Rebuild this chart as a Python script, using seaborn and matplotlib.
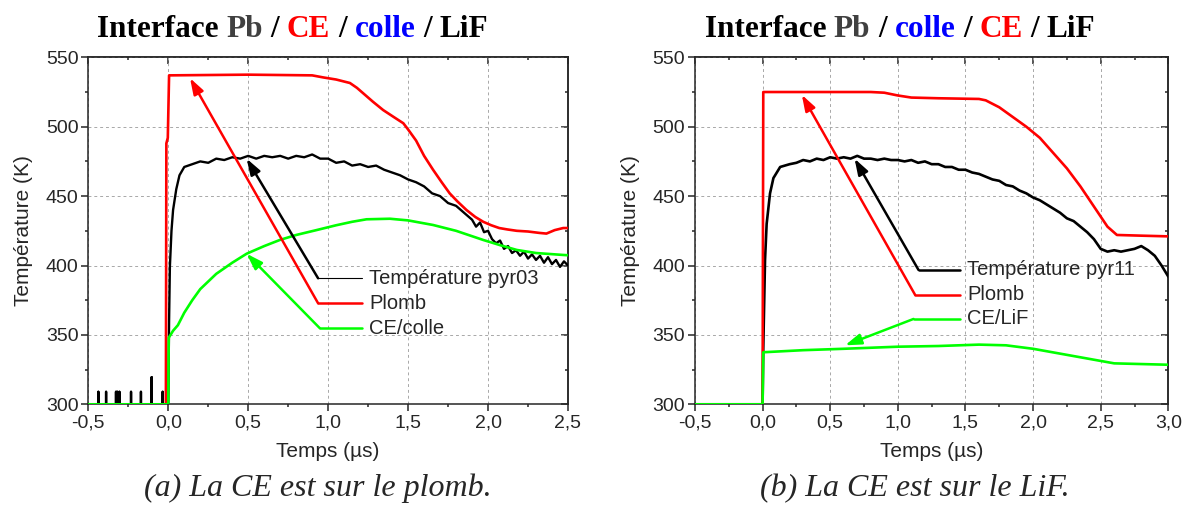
import pandas as pd
import matplotlib
matplotlib.use("Agg")
import matplotlib.pyplot as plt
import seaborn as sns
from matplotlib.ticker import MultipleLocator, FuncFormatter
from matplotlib.offsetbox import TextArea, HPacker, AnchoredOffsetbox

# --- DATA (a) : la CE est sur le plomb ---
a_spike_x = [-0.4375, -0.389, -0.327, -0.319, -0.306, -0.233, -0.171, -0.104, -0.035]
a_spike_top = [309, 309, 309, 309, 309, 309, 309, 319.5, 309]

a_pyr_x = [0.0, 0.005, 0.01, 0.02, 0.03, 0.05, 0.07, 0.1, 0.15, 0.2, 0.25, 0.3, 0.35, 0.4,
           0.45, 0.5, 0.55, 0.6, 0.65, 0.7, 0.75, 0.8, 0.85, 0.9, 0.95, 1.0, 1.05, 1.1,
           1.15, 1.2, 1.25, 1.3, 1.35, 1.4, 1.45, 1.5, 1.55, 1.6, 1.65, 1.7, 1.75, 1.8,
           1.85, 1.9, 1.925, 1.95, 1.975, 2.0, 2.025, 2.05, 2.075, 2.1, 2.125, 2.15,
           2.175, 2.2, 2.225, 2.25, 2.275, 2.3, 2.325, 2.35, 2.375, 2.4, 2.425, 2.45,
           2.475, 2.5]
a_pyr_y = [300, 360, 399, 425, 440, 455, 465, 471, 473, 475, 474, 477, 476, 478,
           477, 479, 477, 479, 478, 479, 477, 479, 478, 480, 477, 477, 474, 475,
           472, 473, 471, 472, 469, 467, 465, 462, 460, 457, 452, 450, 445, 443,
           438, 433, 428, 431, 424, 425, 419, 416, 418, 412, 414, 409,
           411, 407, 410, 405, 408, 404, 407, 402, 406, 401, 404, 399,
           403, 400]

a_plomb_x = [-0.5, -0.015, -0.012, -0.003, 0.005, 0.5, 0.9, 0.97, 1.05, 1.136, 1.18, 1.22,
             1.28, 1.344, 1.41, 1.47, 1.5, 1.55, 1.6, 1.656, 1.71, 1.76, 1.81, 1.865,
             1.92, 1.97, 2.02, 2.07, 2.12, 2.18, 2.25, 2.32, 2.365, 2.417, 2.47, 2.5]
a_plomb_y = [300, 300, 488, 492, 537, 537.5, 537, 535.5, 534, 531.5, 528, 524,
             518, 512, 507, 502.5, 498, 490, 479, 469, 460, 452, 446, 440,
             435, 431.5, 429, 427, 426, 425, 424.5, 423.5, 423, 425.5, 427, 427]

a_ce_x = [-0.5, 0.0, 0.003, 0.03, 0.06, 0.1, 0.15, 0.2, 0.3, 0.4, 0.49, 0.6, 0.7, 0.8,
          0.93, 1.05, 1.15, 1.24, 1.386, 1.5, 1.656, 1.8, 1.97, 2.08, 2.18, 2.3, 2.47, 2.5]
a_ce_y = [300, 300, 348, 353, 357, 366, 375, 383, 394, 402, 408.5, 414, 418.5, 422,
          425.6, 429, 431.5, 433.3, 433.7, 432.5, 429.2, 425, 418.4, 414.5, 411.2, 409, 407.6, 407.4]

# --- DATA (b) : la CE est sur le LiF ---
b_pyr_x = [-0.5, 0.0, 0.005, 0.018, 0.03, 0.055, 0.08, 0.13, 0.2, 0.25, 0.3, 0.35, 0.4,
           0.45, 0.5, 0.55, 0.6, 0.65, 0.7, 0.75, 0.8, 0.85, 0.9, 0.95, 1.0, 1.05, 1.1,
           1.15, 1.2, 1.25, 1.3, 1.35, 1.4, 1.45, 1.5, 1.55, 1.6, 1.65, 1.7, 1.75, 1.8,
           1.85, 1.9, 1.95, 2.0, 2.05, 2.1, 2.15, 2.2, 2.25, 2.3, 2.35, 2.4, 2.45, 2.5,
           2.55, 2.6, 2.65, 2.7, 2.75, 2.8, 2.85, 2.9, 2.95, 3.0]
b_pyr_y = [300, 300, 340, 404, 430, 452, 463, 471, 473, 474, 476, 475, 477,
           476, 478, 477, 478, 477, 479, 477, 477, 476, 477, 476, 476, 475, 476,
           474, 475, 473, 473, 471, 471, 469, 469, 467, 466, 464, 462, 461, 458,
           457, 454, 452, 449, 447, 444, 441, 438, 434, 432, 428, 424, 419, 412,
           410, 411, 410, 411, 412, 414, 411, 407, 400, 392]

b_plomb_x = [-0.5, 0.0, 0.005, 0.8, 0.9, 1.0, 1.1, 1.3, 1.6, 1.65, 1.75, 1.85, 1.95,
             2.05, 2.15, 2.25, 2.35, 2.45, 2.55, 2.62, 2.8, 3.0]
b_plomb_y = [300, 300, 525, 525, 524.5, 522.5, 521, 520.5, 520, 519, 514, 507, 500,
             492, 481, 470, 457, 442.5, 428, 422, 421.5, 421]

b_ce_x = [-0.5, 0.0, 0.005, 0.3, 0.6, 1.0, 1.3, 1.6, 1.8, 2.0, 2.2, 2.4, 2.6, 2.8, 3.0]
b_ce_y = [300, 300, 337.5, 339, 340, 341.5, 342, 343, 342.5, 340, 336.5, 333, 329.5, 329, 328.5]

# black trace of (a): baseline with the parasitic spikes before t = 0
a_black_x = [-0.5]
a_black_y = [300]
for sx, top in zip(a_spike_x, a_spike_top):
    a_black_x += [sx, sx, sx]
    a_black_y += [300, top, 300]
a_black_x += a_pyr_x
a_black_y += a_pyr_y

RED = "#ff0000"
GREEN = "#00ff00"
BLACK = "#000000"
SANS = "Liberation Sans"
SERIF = "Liberation Serif"

sns.set_style("ticks")
plt.rcParams["font.family"] = [SANS, "DejaVu Sans"]


def comma(v, pos):
    return f"{v:.1f}".replace(".", ",")


def curve(ax, x, y, color, lw, z):
    df = pd.DataFrame({"t": x, "T": y})
    sns.lineplot(data=df, x="t", y="T", ax=ax, color=color, lw=lw,
                 estimator=None, sort=False, zorder=z)


def annotate(ax, items):
    # label, colour, arrow tip, elbow, end of the horizontal stub, text x, stub width
    for label, color, tip, elbow, stub_x, text_x, stub_lw in items:
        ax.annotate("", xy=tip, xytext=elbow,
                    arrowprops=dict(arrowstyle="-|>,head_length=0.6,head_width=0.2",
                                    color=color, lw=1.8, shrinkA=0, shrinkB=0,
                                    mutation_scale=16), zorder=6)
        ax.plot([elbow[0], stub_x], [elbow[1], elbow[1]], color=color, lw=stub_lw, zorder=6)
        ax.text(text_x, elbow[1], label, fontsize=14.5, va="center", ha="left", zorder=7)


def style_axes(ax, xmax):
    ax.set_xlim(-0.5, xmax)
    ax.set_ylim(300, 550)
    ax.xaxis.set_major_locator(MultipleLocator(0.5))
    ax.xaxis.set_minor_locator(MultipleLocator(0.25))
    ax.xaxis.set_major_formatter(FuncFormatter(comma))
    ax.yaxis.set_major_locator(MultipleLocator(50))
    ax.yaxis.set_minor_locator(MultipleLocator(25))
    ax.grid(True, which="major", color="#a8a8a8", lw=0.7, ls=(0, (3, 3)))
    ax.tick_params(which="major", direction="out", length=5, width=1.1, labelsize=14, pad=2)
    ax.tick_params(which="minor", direction="out", length=2.5, width=1.1)
    for s in ax.spines.values():
        s.set_linewidth(1.1)
        s.set_visible(True)
    ax.set_xlabel("Temps (µs)", fontsize=15, labelpad=8)
    ax.set_ylabel("Température (K)", fontsize=15, labelpad=9)
    top = ax.secondary_xaxis("top")
    top.xaxis.set_major_locator(MultipleLocator(0.5))
    top.xaxis.set_minor_locator(MultipleLocator(0.25))
    top.tick_params(which="major", direction="in", length=5, width=1.1, labeltop=False)
    top.tick_params(which="minor", direction="in", length=2.5, width=1.1)
    top.spines["top"].set_linewidth(1.1)
    right = ax.secondary_yaxis("right")
    right.yaxis.set_major_locator(MultipleLocator(50))
    right.yaxis.set_minor_locator(MultipleLocator(25))
    right.tick_params(which="major", direction="in", length=5, width=1.1, labelright=False)
    right.tick_params(which="minor", direction="in", length=2.5, width=1.1)
    right.spines["right"].set_linewidth(1.1)


def title(fig, cx, cy, parts):
    boxes = [TextArea(t, textprops=dict(color=c, fontsize=22.5, fontweight="bold",
                                         family=SERIF)) for t, c in parts]
    pack = HPacker(children=boxes, align="baseline", pad=0, sep=5.6)
    anchored = AnchoredOffsetbox(loc="center", child=pack, pad=0, borderpad=0, frameon=False,
                                 bbox_to_anchor=(cx, cy), bbox_transform=fig.transFigure)
    fig.add_artist(anchored)


fig = plt.figure(figsize=(11.89, 5.05), dpi=100)
ax_a = fig.add_axes([0.0743, 0.1994, 0.4034, 0.6871])
ax_b = fig.add_axes([0.5845, 0.1994, 0.3981, 0.6871])

# panel (a)
curve(ax_a, a_black_x, a_black_y, BLACK, 1.7, 3)
curve(ax_a, a_plomb_x, a_plomb_y, RED, 1.9, 4)
curve(ax_a, a_ce_x, a_ce_y, GREEN, 1.9, 5)
style_axes(ax_a, 2.5)
annotate(ax_a, [
    ("Température pyr03", BLACK, (0.49, 477), (0.937, 390.8), 1.21, 1.255, 0.8),
    ("Plomb", RED, (0.136, 535), (0.937, 372.8), 1.21, 1.255, 1.8),
    ("CE/colle", GREEN, (0.49, 408.5), (0.948, 354.8), 1.21, 1.255, 1.8),
])

# panel (b)
curve(ax_b, b_pyr_x, b_pyr_y, BLACK, 1.9, 3)
curve(ax_b, b_plomb_x, b_plomb_y, RED, 1.9, 4)
curve(ax_b, b_ce_x, b_ce_y, GREEN, 1.9, 5)
style_axes(ax_b, 3.0)
annotate(ax_b, [
    ("Température pyr11", BLACK, (0.68, 477), (1.153, 396.8), 1.46, 1.515, 1.8),
    ("Plomb", RED, (0.29, 523), (1.128, 378.8), 1.46, 1.515, 1.8),
    ("CE/LiF", GREEN, (0.61, 342.5), (1.116, 361.5), 1.46, 1.515, 1.8),
])

title(fig, 0.246, 0.941, [("Interface", BLACK), ("Pb", "#404040"), ("/", BLACK),
                          ("CE", RED), ("/", BLACK), ("colle", "#0000ff"),
                          ("/", BLACK), ("LiF", BLACK)])
title(fig, 0.757, 0.941, [("Interface", BLACK), ("Pb", "#404040"), ("/", BLACK),
                          ("colle", "#0000ff"), ("/", BLACK), ("CE", RED),
                          ("/", BLACK), ("LiF", BLACK)])

fig.text(0.267, 0.018, "(a) La CE est sur le plomb.", family=SERIF, style="italic",
         fontsize=23, ha="center", va="baseline")
fig.text(0.769, 0.018, "(b) La CE est sur le LiF.", family=SERIF, style="italic",
         fontsize=23, ha="center", va="baseline")

fig.savefig("out.png", dpi=100)
